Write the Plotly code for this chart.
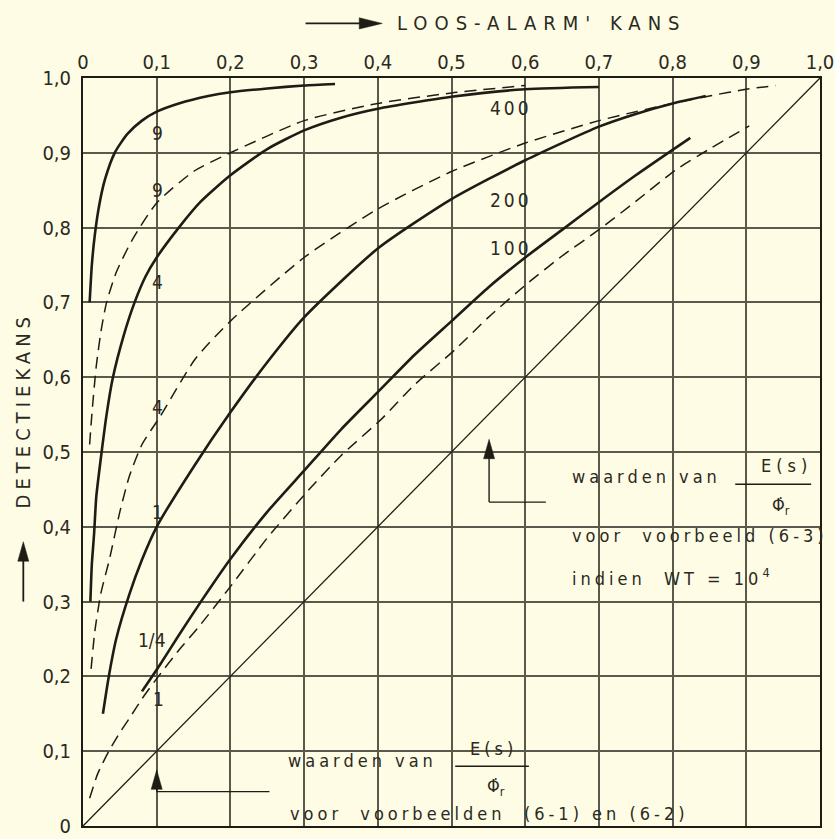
import plotly.graph_objects as go

# ---------------- data ----------------
tick_vals = [0, 0.1, 0.2, 0.3, 0.4, 0.5, 0.6, 0.7, 0.8, 0.9, 1.0]
tick_text = ["0", "0,1", "0,2", "0,3", "0,4", "0,5", "0,6", "0,7", "0,8", "0,9", "1,0"]

# solid curves (voorbeelden 6-1 / 6-2), E(s)/Phi_r = 9, 4, 1, 1/4
s9_x = [0.009, 0.012, 0.016, 0.022, 0.03, 0.043, 0.06, 0.08, 0.1, 0.13, 0.17, 0.2, 0.25, 0.3, 0.342]
s9_y = [0.70, 0.75, 0.79, 0.83, 0.865, 0.90, 0.925, 0.943, 0.955, 0.966, 0.976, 0.981, 0.986, 0.99, 0.992]

s4_x = [0.010, 0.012, 0.015, 0.018, 0.024, 0.032, 0.04, 0.055, 0.07, 0.085, 0.1, 0.13, 0.16, 0.2, 0.25, 0.3, 0.35, 0.4, 0.5, 0.6, 0.7]
s4_y = [0.30, 0.35, 0.39, 0.44, 0.49, 0.55, 0.597, 0.655, 0.70, 0.735, 0.76, 0.80, 0.835, 0.87, 0.905, 0.93, 0.947, 0.959, 0.975, 0.985, 0.988]

s1_x = [0.027, 0.035, 0.045, 0.063, 0.08, 0.1, 0.15, 0.2, 0.25, 0.3, 0.4, 0.5, 0.6, 0.7, 0.75, 0.8, 0.845]
s1_y = [0.15, 0.20, 0.25, 0.31, 0.356, 0.40, 0.48, 0.553, 0.62, 0.68, 0.772, 0.838, 0.89, 0.935, 0.952, 0.966, 0.976]

sq_x = [0.08, 0.104, 0.13, 0.16, 0.2, 0.25, 0.3, 0.35, 0.4, 0.45, 0.5, 0.55, 0.6, 0.65, 0.7, 0.75, 0.8, 0.824]
sq_y = [0.18, 0.215, 0.255, 0.30, 0.357, 0.42, 0.475, 0.53, 0.58, 0.63, 0.675, 0.72, 0.76, 0.797, 0.834, 0.87, 0.904, 0.92]

# dashed curves (voorbeeld 6-3)
d9_x = [0.009, 0.012, 0.018, 0.025, 0.032, 0.045, 0.067, 0.1, 0.15, 0.2, 0.3, 0.4, 0.5, 0.6]
d9_y = [0.51, 0.55, 0.615, 0.665, 0.70, 0.74, 0.784, 0.833, 0.875, 0.90, 0.943, 0.966, 0.98, 0.99]

d4_x = [0.011, 0.016, 0.024, 0.036, 0.05, 0.063, 0.08, 0.105, 0.152, 0.2, 0.3, 0.4, 0.5, 0.6, 0.7, 0.75, 0.8, 0.85, 0.9, 0.94]
d4_y = [0.21, 0.26, 0.31, 0.357, 0.42, 0.468, 0.51, 0.548, 0.624, 0.675, 0.76, 0.825, 0.875, 0.913, 0.943, 0.955, 0.966, 0.976, 0.985, 0.99]

d1_x = [0.009, 0.02, 0.035, 0.05, 0.063, 0.08, 0.1, 0.13, 0.156, 0.2, 0.25, 0.305, 0.35, 0.406, 0.45, 0.505, 0.55, 0.605, 0.65, 0.704, 0.75, 0.804, 0.85, 0.904]
d1_y = [0.037, 0.07, 0.10, 0.125, 0.144, 0.17, 0.197, 0.235, 0.265, 0.32, 0.385, 0.448, 0.495, 0.545, 0.59, 0.637, 0.68, 0.727, 0.762, 0.80, 0.835, 0.877, 0.905, 0.936]

diag_x = [0.0, 1.0]
diag_y = [0.0, 1.0]

# curve labels
lab_text = ["9", "9", "4", "4", "1", "1/4", "1"]
lab_x = [0.101, 0.101, 0.101, 0.101, 0.101, 0.094, 0.102]
lab_y = [0.927, 0.850, 0.727, 0.560, 0.420, 0.249, 0.170]

big_text = ["400", "200", "100"]
big_x = [0.612, 0.612, 0.612]
big_y = [0.960, 0.837, 0.773]

# ---------------- style ----------------
BG = "#FEFCE4"
INK = "#1d1d16"
TXT = "#2a2a22"
GRID = "#5a5a4c"
FONT = "DejaVu Sans Condensed, DejaVu Sans, sans-serif"

fig = go.Figure()

def solid(x, y):
    fig.add_trace(go.Scatter(x=x, y=y, mode="lines",
                             line=dict(color=INK, width=2.6, shape="spline", smoothing=0.6),
                             hoverinfo="skip", showlegend=False))

def dashed(x, y):
    fig.add_trace(go.Scatter(x=x, y=y, mode="lines",
                             line=dict(color=INK, width=1.5, dash="12px,7px", shape="spline", smoothing=0.6),
                             hoverinfo="skip", showlegend=False))

fig.add_trace(go.Scatter(x=diag_x, y=diag_y, mode="lines", line=dict(color=INK, width=1.3),
                         hoverinfo="skip", showlegend=False))
for xs, ys in [(s9_x, s9_y), (s4_x, s4_y), (s1_x, s1_y), (sq_x, sq_y)]:
    solid(xs, ys)
for xs, ys in [(d9_x, d9_y), (d4_x, d4_y), (d1_x, d1_y)]:
    dashed(xs, ys)


def sp(s, n=2):
    return '<span style="letter-spacing:%dpx">%s</span>' % (n, s)


ann = []
for t, x, y in zip(lab_text, lab_x, lab_y):
    ann.append(dict(x=x, y=y, text=t, showarrow=False, font=dict(family=FONT, size=19, color=TXT)))
for t, x, y in zip(big_text, big_x, big_y):
    ann.append(dict(x=x, y=y, text=sp(t, 3), showarrow=False, xanchor="right",
                    font=dict(family=FONT, size=19, color=TXT)))

txtfont = dict(family=FONT, size=18, color=TXT)

ann += [
    # right-hand explanation block
    dict(x=0.661, y=0.467, text=sp("waarden van", 4), xanchor="left", showarrow=False, font=txtfont),
    dict(x=0.955, y=0.482, text=sp("E(s)", 5), showarrow=False, font=txtfont),
    dict(x=0.947, y=0.428, text="Φ\u0307<sub>r</sub>", showarrow=False, font=txtfont),
    dict(x=0.661, y=0.388, text=sp("voor  voorbeeld (6-3)", 4), xanchor="left", showarrow=False, font=txtfont),
    dict(x=0.661, y=0.333, text=sp("indien  WT = 10<sup>4</sup>", 4), xanchor="left", showarrow=False, font=txtfont),
    # bottom block
    dict(x=0.275, y=0.087, text=sp("waarden van", 4), xanchor="left", showarrow=False, font=txtfont),
    dict(x=0.557, y=0.104, text=sp("E(s)", 4), showarrow=False, font=txtfont),
    dict(x=0.561, y=0.052, text="Φ\u0307<sub>r</sub>", showarrow=False, font=txtfont),
    dict(x=0.278, y=0.017, text=sp("voor  voorbeelden  (6-1) en (6-2)", 4), xanchor="left", showarrow=False, font=txtfont),
    # axis titles
    dict(x=0.424, y=1.073, text=sp("LOOS-ALARM' KANS", 7), xanchor="left", showarrow=False,
         font=dict(family=FONT, size=20, color=TXT)),
    dict(x=-0.081, y=0.556, text=sp("DETECTIEKANS", 5), textangle=-90, showarrow=False,
         font=dict(family=FONT, size=20, color=TXT)),
]
for a in ann:
    a["xref"] = "paper"
    a["yref"] = "paper"
    a.setdefault("xanchor", "center")
    a.setdefault("yanchor", "middle")

shapes = [
    # blank panels behind the explanatory text (grid interrupted there)
    dict(type="rect", x0=0.607, x1=0.997, y0=0.31, y1=0.492, fillcolor=BG, line=dict(width=0), layer="between"),
    dict(type="rect", x0=0.205, x1=0.62, y0=0.004, y1=0.125, fillcolor=BG, line=dict(width=0), layer="between"),
    dict(type="rect", x0=0.62, x1=0.795, y0=0.004, y1=0.045, fillcolor=BG, line=dict(width=0), layer="between"),
    # fraction bars
    dict(type="line", x0=0.885, x1=0.988, y0=0.457, y1=0.457, line=dict(color=INK, width=1.5)),
    dict(type="line", x0=0.505, x1=0.605, y0=0.080, y1=0.080, line=dict(color=INK, width=1.5)),
    # arrow legs
    dict(type="line", x0=0.551, x1=0.628, y0=0.433, y1=0.433, line=dict(color=INK, width=1.3)),
    dict(type="line", x0=0.1, x1=0.253, y0=0.046, y1=0.046, line=dict(color=INK, width=1.3)),
]

HL, HW = 0.026, 0.0075  # arrow head length / half width (paper units)


def arrow_up(x, y_tail, y_tip, w=1.4):
    shapes.append(dict(type="line", x0=x, x1=x, y0=y_tail, y1=y_tip - HL * 0.5, line=dict(color=INK, width=w)))
    shapes.append(dict(type="path", path="M %f %f L %f %f L %f %f Z" % (x, y_tip, x - HW, y_tip - HL, x + HW, y_tip - HL),
                       fillcolor=INK, line=dict(color=INK, width=0.5)))


def arrow_right(y, x_tail, x_tip, w=1.6):
    shapes.append(dict(type="line", x0=x_tail, x1=x_tip - HL * 0.5, y0=y, y1=y, line=dict(color=INK, width=w)))
    shapes.append(dict(type="path", path="M %f %f L %f %f L %f %f Z" % (x_tip, y, x_tip - HL * 1.2, y - HW, x_tip - HL * 1.2, y + HW),
                       fillcolor=INK, line=dict(color=INK, width=0.5)))


arrow_up(0.551, 0.433, 0.517)
arrow_up(0.1, 0.046, 0.075)
arrow_up(-0.081, 0.30, 0.38, w=1.8)
arrow_right(1.073, 0.302, 0.406, w=1.8)

for s in shapes:
    s["xref"] = "paper"
    s["yref"] = "paper"

axis_common = dict(range=[0, 1], tickmode="array", tickvals=tick_vals, ticktext=tick_text,
                   showgrid=True, gridcolor=GRID, gridwidth=1.5, zeroline=False,
                   showline=True, linecolor=INK, linewidth=2, mirror=True, ticks="",
                   ticklabeloverflow="allow",
                   tickfont=dict(family=FONT, size=20, color=TXT), fixedrange=True)

fig.update_layout(
    width=835, height=839,
    margin=dict(l=83, r=1, t=78, b=11, pad=0),
    paper_bgcolor=BG, plot_bgcolor=BG,
    xaxis=dict(side="top", ticklabelstandoff=-1, **axis_common),
    yaxis=dict(ticklabelstandoff=6, **axis_common),
    annotations=ann, shapes=shapes, showlegend=False,
)

fig.write_html("out.html", config={"displayModeBar": False},
               post_script="document.body.style.margin='0';document.body.style.background='%s';" % BG)
